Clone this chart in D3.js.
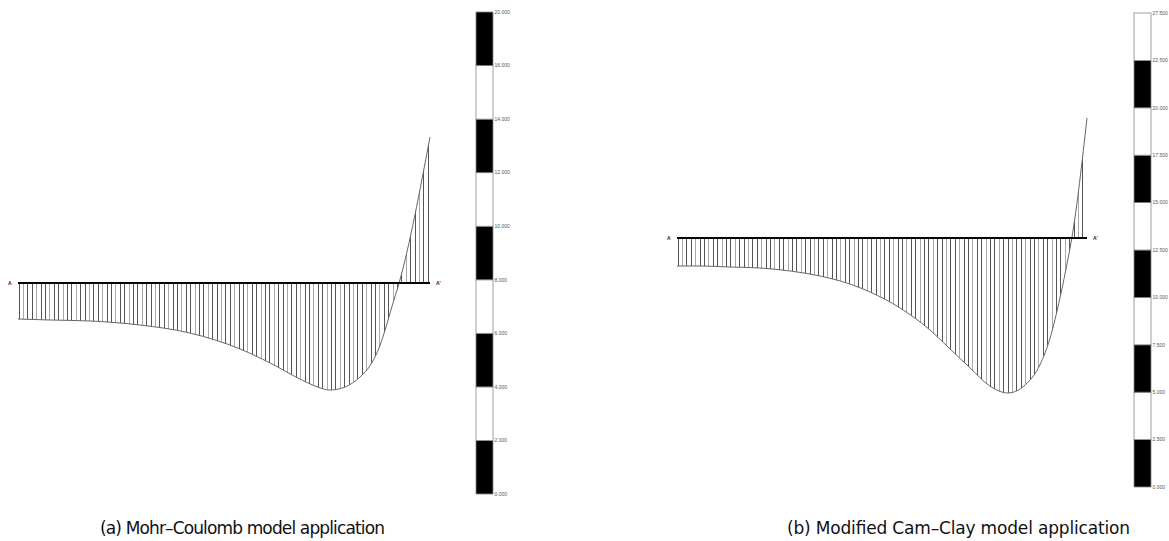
<!DOCTYPE html>
<html><head><meta charset="utf-8">
<script src="https://cdn.jsdelivr.net/npm/d3@7"></script>
<style>html,body{margin:0;padding:0;background:#fff}svg{display:block}</style>
</head><body>
<script>
// ---- data ----
const stationA = [0, 7.8, 17.5, 29.6, 41.7, 53.9, 61.2, 68.4, 72.1, 75.7, 79.4, 83.0, 85.4, 87.9, 89.1, 90.8, 92.5, 100];
const settleA  = [-3.6, -3.7, -3.8, -4.2, -5.0, -6.6, -8.0, -9.6, -10.3, -10.7, -10.4, -9.4, -8.3, -6.2, -4.7, -2.3, 0, 14.6];
const stationB = [0, 5.6, 12.9, 20.2, 27.6, 34.9, 39.8, 47.1, 54.4, 61.7, 66.6, 71.5, 76.3, 80.7, 84.9, 88.5, 91.0, 93.4, 95.4, 96.3, 100];
const settleB  = [-2.8, -2.8, -2.9, -3.0, -3.3, -3.8, -4.3, -5.4, -7.0, -9.2, -11.1, -13.0, -14.8, -15.5, -14.7, -12.7, -10.0, -6.0, -2.0, 0, 12.0];
const legendA = ["0.000","2.000","4.000","6.000","8.000","10.000","12.000","14.000","16.000","20.000"];
const legendB = ["0.000","2.500","5.000","7.500","10.000","12.500","15.000","17.500","20.000","22.500","27.500"];
const captionA = "(a) Mohr–Coulomb model application";
const captionB = "(b) Modified Cam–Clay model application";

const W = 1169, H = 541;
const svg = d3.select("body").append("svg").attr("width", W).attr("height", H);
svg.append("rect").attr("width", W).attr("height", H).attr("fill", "#fff");
const defs = svg.append("defs");

function profile(id, stations, values, xr, y0, labelA, labelA2) {
  const x = d3.scaleLinear().domain([0, 100]).range(xr);
  const y = d3.scaleLinear().domain([0, -10]).range([y0, y0 + 100]);
  const pts = stations.map((s, i) => [s, values[i]]);
  const area = d3.area().x(d => x(d[0])).y0(y(0)).y1(d => y(d[1])).curve(d3.curveMonotoneX);
  const line = d3.line().x(d => x(d[0])).y(d => y(d[1])).curve(d3.curveMonotoneX);
  defs.append("clipPath").attr("id", id).append("path").attr("d", area(pts));
  const g = svg.append("g");
  const hatch = g.append("g").attr("clip-path", `url(#${id})`);
  const xs = d3.range(xr[0] + 0.5, xr[1] + 1, 4.4);
  hatch.selectAll("line").data(xs).join("line")
    .attr("x1", d => Math.round(d) + 0.5).attr("x2", d => Math.round(d) + 0.5)
    .attr("y1", 0).attr("y2", H)
    .attr("stroke", (d, i) => (i % 3 === 1) ? "#aaa" : "#555")
    .attr("stroke-width", 1);
  g.append("path").attr("d", line(pts)).attr("fill", "none").attr("stroke", "#666").attr("stroke-width", 1);
  g.append("line").attr("x1", x(0)).attr("x2", x(100)).attr("y1", y(0)).attr("y2", y(0))
    .attr("stroke", "#000").attr("stroke-width", 2);
  g.append("text").attr("x", x(0) - 10).attr("y", y(0) + 2).text(labelA)
    .attr("font-family", "Liberation Sans, Arial").attr("font-size", 5).attr("font-weight", "bold").attr("fill", "#222");
  g.append("text").attr("x", x(100) + 6).attr("y", y(0) + 2).text(labelA2)
    .attr("font-family", "Liberation Sans, Arial").attr("font-size", 5).attr("font-weight", "bold").attr("fill", "#222");
}

profile("clipA", stationA, settleA, [18, 430], 283, "A", "A'");
profile("clipB", stationB, settleB, [677, 1087], 238, "A", "A'");

function legendBar(labels, x0, w, yTop, yBot) {
  const y = d3.scalePoint().domain(labels.slice().reverse()).range([yTop, yBot]);
  const g = svg.append("g");
  const segs = labels.slice(0, -1).map((l, i) => ({lo: l, hi: labels[i + 1], i}));
  g.selectAll("rect").data(segs).join("rect")
    .attr("x", x0).attr("width", w)
    .attr("y", d => y(d.hi)).attr("height", d => y(d.lo) - y(d.hi))
    .attr("fill", d => d.i % 2 === 0 ? "#000" : "#fff")
    .attr("stroke", "#888").attr("stroke-width", 0.8);
  g.selectAll("text").data(labels).join("text")
    .attr("x", x0 + w + 1.5).attr("y", d => y(d) + 1.8).text(d => d)
    .attr("font-family", "Liberation Sans, Arial").attr("font-size", 5).attr("fill", "#555");
}
legendBar(legendA, 476, 17, 12, 494);
legendBar(legendB, 1134, 17, 13, 487);

function caption(t, x0, width) {
  svg.append("text").attr("x", x0).attr("y", 534).text(t)
    .attr("font-family", "DejaVu Sans, sans-serif").attr("font-size", 17).attr("fill", "#111")
    .attr("textLength", width).attr("lengthAdjust", "spacing");
}
caption(captionA, 100, 285);
caption(captionB, 787, 343);
</script>
</body></html>
